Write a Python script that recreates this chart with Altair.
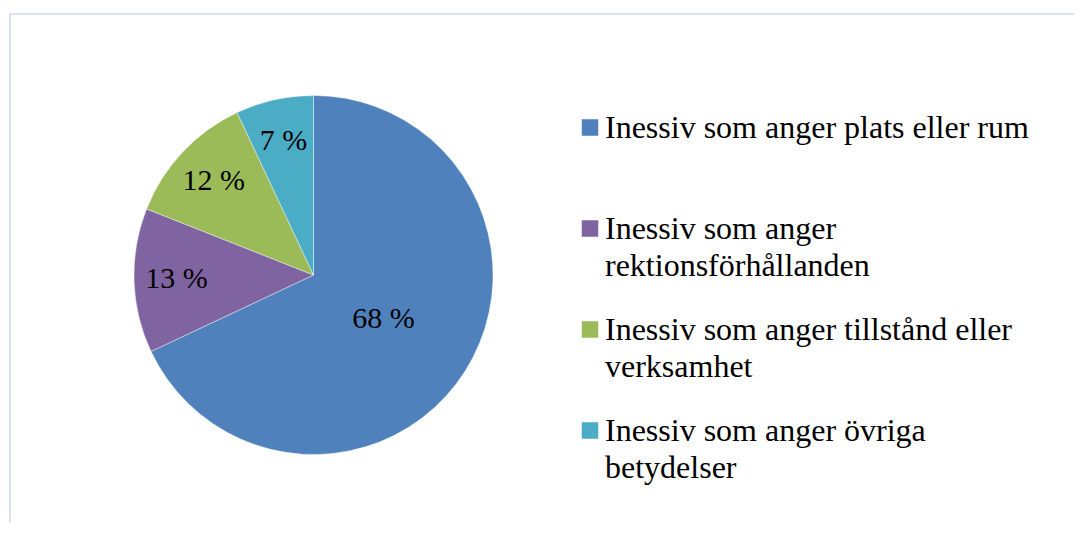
import altair as alt
import pandas as pd

categories = [
    "Inessiv som anger plats eller rum",
    "Inessiv som anger rektionsförhållanden",
    "Inessiv som anger tillstånd eller verksamhet",
    "Inessiv som anger övriga betydelser",
]
legend_labels = [
    "Inessiv som anger plats eller rum",
    "Inessiv som anger\nrektionsförhållanden",
    "Inessiv som anger tillstånd eller\nverksamhet",
    "Inessiv som anger övriga\nbetydelser",
]
values = [68, 13, 12, 7]
colors = ["#4F81BD", "#8064A2", "#9BBB59", "#4BACC6"]

df = pd.DataFrame({
    "category": categories,
    "legend": legend_labels,
    "value": values,
    "order": list(range(len(categories))),
})

W, H = 1066, 515
CX, CY = 304.5, 267
R = 179.5
FONT = "Liberation Serif"

color = alt.Color("category:N", scale=alt.Scale(domain=categories, range=colors), legend=None)
theta = alt.Theta("value:Q", stack=True)
order = alt.Order("order:Q")
base = alt.Chart(df)

pie = base.mark_arc(outerRadius=R, stroke="white", strokeWidth=0.4).encode(
    theta=theta, order=order, color=color, x=alt.value(CX), y=alt.value(CY)
)

lab = base.transform_calculate(lab="datum.value + ' %'")
big_lab = lab.transform_calculate(t="datum.value > 50 ? datum.lab : ''").mark_text(
    radius=83, font=FONT, fontSize=30, color="black"
).encode(theta=theta, order=order, text="t:N", x=alt.value(CX), y=alt.value(CY))
small_lab = lab.transform_calculate(t="datum.value > 50 ? '' : datum.lab").mark_text(
    radius=137, font=FONT, fontSize=30, color="black"
).encode(theta=theta, order=order, text="t:N", x=alt.value(CX), y=alt.value(CY))

ypos = alt.Y("category:N", scale=alt.Scale(domain=categories, range=[119.5, 422.5], padding=0), axis=None)

legend_sq = base.mark_square(size=272, opacity=1).encode(
    x=alt.value(581), y=ypos, color=color
)
legend_txt = base.mark_text(
    align="left", baseline="alphabetic", dy=10, lineBreak="\n", lineHeight=37,
    font=FONT, fontSize=32, color="black"
).encode(x=alt.value(596), y=ypos, text="legend:N")

frame_df = pd.DataFrame({"k": [0]})
frame_top = alt.Chart(frame_df).mark_rule(color="#d9e3f1", strokeWidth=2).encode(
    x=alt.value(0), x2=alt.value(W), y=alt.value(6)
)
frame_left = alt.Chart(frame_df).mark_rule(color="#d9e3f1", strokeWidth=2).encode(
    x=alt.value(1), y=alt.value(6), y2=alt.value(H)
)

chart = alt.layer(
    frame_top, frame_left, pie, big_lab, small_lab, legend_sq, legend_txt
).properties(
    width=W, height=H, padding=0,
    autosize=alt.AutoSizeParams(type="fit", contains="padding"),
    background="white",
).configure_view(stroke=None)

chart.save("out.html", embed_options={"renderer": "svg", "actions": False})
